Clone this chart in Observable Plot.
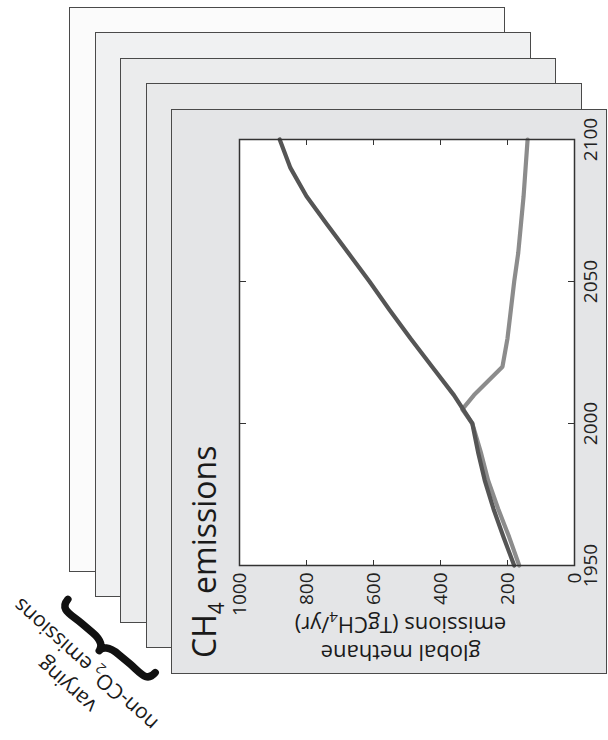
<!DOCTYPE html>
<html>
<head>
<meta charset="utf-8">
<script src="https://cdn.jsdelivr.net/npm/d3@7"></script>
<script src="https://cdn.jsdelivr.net/npm/@observablehq/plot@0.6"></script>
<style>
  html, body { margin: 0; padding: 0; background: #fff; }
  body { width: 608px; height: 740px; overflow: hidden; position: relative; font-family: "Open Sans", sans-serif; }
  /* the figure is laid out landscape, then turned a quarter turn counter-clockwise */
  #figure { position: absolute; left: 0; top: 0; width: 740px; height: 608px;
            transform-origin: 0 0; transform: translate(0px, 740px) rotate(-90deg); }
  .card { position: absolute; width: 565px; height: 436px; box-sizing: border-box; border: 1.6px solid #4a4a4a; }
  #chart { position: absolute; left: 66px; top: 171px; }
  #overlay { position: absolute; left: 0; top: 0; overflow: visible; }
</style>
</head>
<body>
<div id="figure"></div>
<script>
// Global methane emissions (TgCH4/yr) for two scenarios
const highYears = [1950, 1960, 1970, 1980, 1990, 2000, 2010, 2020, 2030, 2040, 2050, 2060, 2070, 2080, 2090, 2100];
const highValues = [180, 212, 242, 268, 288, 305, 360, 425, 490, 552, 612, 675, 738, 800, 848, 880];
const lowYears = [1950, 1960, 1970, 1980, 1990, 2000, 2005, 2010, 2020, 2030, 2040, 2050, 2060, 2070, 2080, 2090, 2100];
const lowValues = [165, 195, 228, 258, 280, 305, 335, 300, 215, 200, 190, 180, 168, 160, 152, 146, 140];
const yearTicks = [1950, 2000, 2050, 2100];
const emissionTicks = [0, 200, 400, 600, 800, 1000];

const high = highYears.map((year, i) => ({year, value: highValues[i]}));
const low = lowYears.map((year, i) => ({year, value: lowValues[i]}));

const figure = document.getElementById("figure");

// stack of sheets, back to front
const sheetFills = ["#fbfbfb", "#f0f1f2", "#ebeced", "#e8e9ea", "#e4e5e7"];
sheetFills.forEach((fill, k) => {
  const card = document.createElement("div");
  card.className = "card";
  card.style.left = (168 - 25.5 * k) + "px";
  card.style.top = (69 + 25.5 * k) + "px";
  card.style.background = fill;
  figure.appendChild(card);
});

const font = "'Open Sans', sans-serif";
const tickFont = 19;
const inward = 6;
const plain = d => String(d);

const plot = Plot.plot({
  width: 565,
  height: 436,
  marginLeft: 108,
  marginRight: 31,
  marginTop: 68,
  marginBottom: 33,
  style: {background: "transparent", fontFamily: font, color: "#222"},
  x: {domain: [1950, 2100], ticks: yearTicks, tickFormat: plain},
  y: {domain: [0, 1000], ticks: emissionTicks, tickFormat: plain},
  marks: [
    Plot.frame({fill: "white", stroke: null}),
    Plot.line(low, {x: "year", y: "value", stroke: "#8c8c8c", strokeWidth: 4.2, strokeLinejoin: "round"}),
    Plot.line(high, {x: "year", y: "value", stroke: "#555555", strokeWidth: 4.2, strokeLinejoin: "round"}),
    Plot.frame({stroke: "#333", strokeWidth: 1.5}),
    // inward ticks on all four sides
    Plot.axisX(yearTicks, {anchor: "bottom", tickSize: inward, dy: -inward, tickFormat: () => "", label: null, stroke: "#333"}),
    Plot.axisX(yearTicks, {anchor: "top", tickSize: inward, dy: inward, tickFormat: () => "", label: null, stroke: "#333"}),
    Plot.axisY(emissionTicks, {anchor: "left", tickSize: inward, dx: inward, tickFormat: () => "", label: null, stroke: "#333"}),
    Plot.axisY(emissionTicks, {anchor: "right", tickSize: inward, dx: -inward, tickFormat: () => "", label: null, stroke: "#333"}),
    // tick labels
    Plot.axisX(yearTicks, {anchor: "bottom", tickSize: 0, tickPadding: 9, fontSize: tickFont, label: null, tickFormat: plain, fill: "#222"}),
    Plot.axisY(emissionTicks, {anchor: "left", tickSize: 0, tickPadding: 7, fontSize: tickFont, label: null, tickFormat: plain, fill: "#222"})
  ]
});
const chart = document.createElement("div");
chart.id = "chart";
chart.appendChild(plot);
figure.appendChild(chart);

// title, axis label and annotation
const svg = d3.select(figure).append("svg")
  .attr("id", "overlay")
  .attr("width", 740)
  .attr("height", 608)
  .style("font-family", font);

const title = svg.append("text")
  .attr("x", 82).attr("y", 216)
  .attr("font-size", 32).attr("fill", "#1a1a1a");
title.append("tspan").text("CH");
title.append("tspan").attr("font-size", 21).attr("dy", 8).text("4");
title.append("tspan").attr("dy", -8).text(" emissions");

const frameMidY = 171 + 68 + (436 - 68 - 33) / 2;
svg.append("text")
  .attr("transform", `translate(87,${frameMidY - 6}) rotate(-90)`)
  .attr("text-anchor", "middle").attr("dy", "0.35em")
  .attr("font-size", 22).attr("fill", "#1a1a1a")
  .text("global methane");
const yLabel2 = svg.append("text")
  .attr("transform", `translate(115,${frameMidY - 6}) rotate(-90)`)
  .attr("text-anchor", "middle").attr("dy", "0.35em")
  .attr("font-size", 22).attr("fill", "#1a1a1a");
yLabel2.append("tspan").text("emissions (TgCH");
yLabel2.append("tspan").attr("font-size", 15).attr("dy", 5).text("4");
yLabel2.append("tspan").attr("dy", -5).text("/yr)");

// curly brace grouping the sheets: tips on x = 0, point at x = -d
const d = 19, h = 57;
const bracePath = `M0,${-h} C${-d * 0.7},${-h} ${-d * 0.5},${-h * 0.8} ${-d * 0.5},${-h * 0.55}
  L${-d * 0.5},${-h * 0.3} C${-d * 0.5},${-h * 0.08} ${-d * 0.75},0 ${-d},0
  C${-d * 0.75},0 ${-d * 0.5},${h * 0.08} ${-d * 0.5},${h * 0.3}
  L${-d * 0.5},${h * 0.55} C${-d * 0.5},${h * 0.8} ${-d * 0.7},${h} 0,${h}`;
svg.append("path")
  .attr("transform", "translate(104,111.5) rotate(40)")
  .attr("d", bracePath)
  .attr("fill", "none").attr("stroke", "#111").attr("stroke-width", 7.5)
  .attr("stroke-linecap", "round").attr("stroke-linejoin", "round");

const note = svg.append("g")
  .attr("transform", "translate(65,76) rotate(-48)")
  .attr("font-size", 21).attr("fill", "#1a1a1a").attr("text-anchor", "middle");
note.append("text").attr("y", -14).attr("dy", "0.35em").text("varying");
const line2 = note.append("text").attr("y", 14).attr("dy", "0.35em");
line2.append("tspan").text("non-CO");
line2.append("tspan").attr("font-size", 14).attr("dy", 5).text("2");
line2.append("tspan").attr("dy", -5).text(" emissions");
</script>
</body>
</html>
